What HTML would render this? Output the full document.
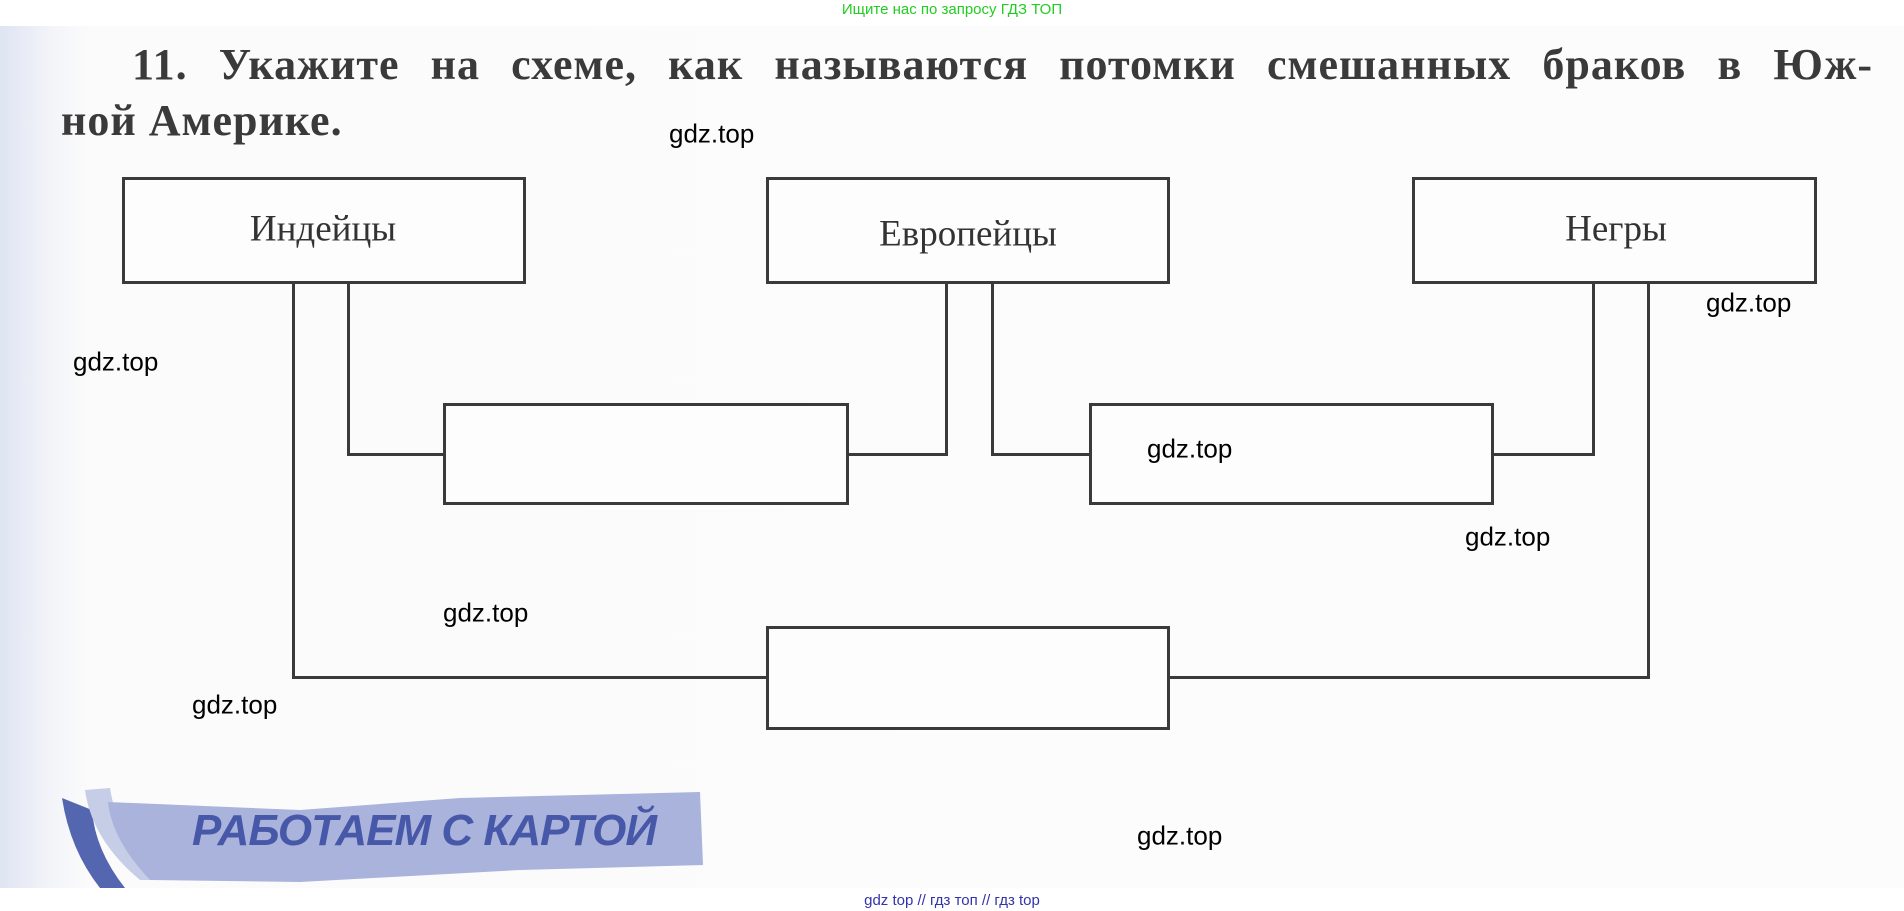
<!DOCTYPE html>
<html><head><meta charset="utf-8"><style>
body{margin:0;width:1904px;height:911px;position:relative;overflow:hidden;background:#fff;font-family:"Liberation Serif",serif}
.pg{position:absolute;left:0;top:26px;width:1904px;height:862px;background:linear-gradient(90deg,#dfe4f2 0,#f3f4f9 50px,#fbfbfb 90px,#fcfcfc 100%)}
.b{position:absolute;border:3px solid #3a3a3a;box-sizing:border-box;background:#fdfdfd}
.l{position:absolute;background:#3a3a3a}
.lab{position:absolute;font-size:37px;color:#333;transform:translate(-50%,-50%);white-space:nowrap}
.g{position:absolute;font-family:"Liberation Sans",sans-serif;font-size:26px;color:#000;transform:translateY(-50%)}
.t{position:absolute;font-weight:bold;font-size:44px;letter-spacing:1px;color:#3a3a3a;white-space:nowrap}
</style></head><body>
<div class="pg"></div>
<div style="position:absolute;top:1px;width:1904px;text-align:center;font-family:'Liberation Sans',sans-serif;font-size:15px;color:#22cc22">Ищите нас по запросу ГДЗ ТОП</div>
<div class="t" style="left:132px;top:39px;width:1741px;text-align:justify;text-align-last:justify">11. Укажите на схеме, как называются потомки смешанных браков в Юж-</div>
<div class="t" style="left:61px;top:95px">ной Америке.</div>

<div class="l" style="left:347px;top:283px;width:3px;height:173px"></div>
<div class="l" style="left:347px;top:453px;width:98px;height:3px"></div>
<div class="l" style="left:945px;top:283px;width:3px;height:173px"></div>
<div class="l" style="left:846px;top:453px;width:101px;height:3px"></div>
<div class="l" style="left:991px;top:283px;width:3px;height:173px"></div>
<div class="l" style="left:991px;top:453px;width:100px;height:3px"></div>
<div class="l" style="left:1592px;top:283px;width:3px;height:173px"></div>
<div class="l" style="left:1491px;top:453px;width:103px;height:3px"></div>
<div class="l" style="left:292px;top:283px;width:3px;height:396px"></div>
<div class="l" style="left:292px;top:676px;width:476px;height:3px"></div>
<div class="l" style="left:1647px;top:283px;width:3px;height:396px"></div>
<div class="l" style="left:1167px;top:676px;width:483px;height:3px"></div>

<div class="b" style="left:122px;top:177px;width:404px;height:107px"></div>
<div class="b" style="left:766px;top:177px;width:404px;height:107px"></div>
<div class="b" style="left:1412px;top:177px;width:405px;height:107px"></div>
<div class="b" style="left:443px;top:403px;width:406px;height:102px"></div>
<div class="b" style="left:1089px;top:403px;width:405px;height:102px"></div>
<div class="b" style="left:766px;top:626px;width:404px;height:104px"></div>
<div class="lab" style="left:323px;top:229px">Индейцы</div>
<div class="lab" style="left:968px;top:234px">Европейцы</div>
<div class="lab" style="left:1616px;top:229px">Негры</div>

<svg style="position:absolute;left:0;top:770px" width="720" height="120">
<path d="M62 28 Q70 80 100 118 L125 118 Q95 80 92 40 Z" fill="#5566b0"/>
<path d="M85 20 Q92 70 140 110 L160 110 Q118 70 110 18 Z" fill="#c6cde6"/>
<path d="M108 32 L300 40 L460 28 L700 22 L703 95 L520 100 L300 112 L150 110 Q112 70 108 32Z" fill="#a9b3dc"/>
</svg>
<div style="position:absolute;left:192px;top:806px;font-family:'Liberation Sans',sans-serif;font-weight:bold;font-style:italic;font-size:44px;color:#4858a8;letter-spacing:-1px">РАБОТАЕМ С КАРТОЙ</div>

<div class="g" style="left:669px;top:134px">gdz.top</div>
<div class="g" style="left:1706px;top:303px">gdz.top</div>
<div class="g" style="left:73px;top:362px">gdz.top</div>
<div class="g" style="left:1147px;top:449px">gdz.top</div>
<div class="g" style="left:1465px;top:537px">gdz.top</div>
<div class="g" style="left:443px;top:613px">gdz.top</div>
<div class="g" style="left:192px;top:705px">gdz.top</div>
<div class="g" style="left:1137px;top:836px">gdz.top</div>
<div style="position:absolute;top:892px;width:1904px;text-align:center;font-family:'Liberation Sans',sans-serif;font-size:15px;color:#3333aa">gdz top // гдз топ // гдз top</div>
</body></html>
